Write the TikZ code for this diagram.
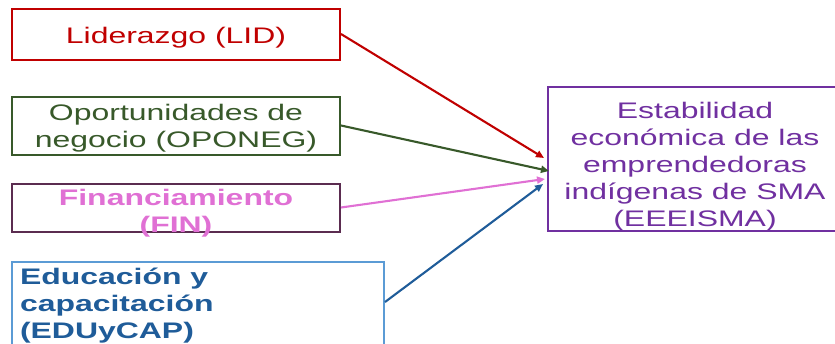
\documentclass[tikz,border=0pt]{standalone}
\usepackage{fontspec}
\setmainfont[FakeStretch=1.42]{Liberation Sans}
\usetikzlibrary{arrows.meta}
\definecolor{cLID}{HTML}{C00000}
\definecolor{cOPO}{HTML}{38592A}
\definecolor{cFINb}{HTML}{5B2C50}
\definecolor{cFIN}{HTML}{E070D4}
\definecolor{cEDUb}{HTML}{5B9BD5}
\definecolor{cEDU}{HTML}{1F5C99}
\definecolor{cEEE}{HTML}{7030A0}
\newcommand{\ctext}[3]{\raisebox{#1}[0pt][0pt]{\makebox[0pt]{\kern#2\makebox[0pt]{\begin{tabular}[b]{@{}c@{}}#3\end{tabular}}\kern-#2}}}
\newcommand{\ltext}[3]{\raisebox{#1}[0pt][0pt]{\makebox[0pt][l]{\kern#2\begin{tabular}[b]{@{}l@{}}#3\end{tabular}}}}
\begin{document}
\begin{tikzpicture}[x=1pt,y=-1pt,
  box/.style={draw, line width=2pt, inner sep=0pt, font=\fontsize{22.5}{27}\selectfont},
  link/.style={line width=2.1pt, -{Triangle[length=8pt,width=7pt]}}]
\useasboundingbox (0,0) rectangle (835,343);
\node[box, draw=cLID, text=cLID, minimum width=328pt, minimum height=51pt] (lid) at (176,34)
  {\ctext{-9pt}{0pt}{Liderazgo (LID)}};
\node[box, draw=cOPO, text=cOPO, minimum width=328pt, minimum height=58pt] (opo) at (176,125.5)
  {\ctext{-21.5pt}{0pt}{Oportunidades de\\negocio (OPONEG)}};
\node[box, draw=cFINb, text=cFIN, minimum width=328pt, minimum height=48pt] (fin) at (176,207.5)
  {\ctext{-24.5pt}{0pt}{\bfseries Financiamiento\\\bfseries (FIN)}};
\node[box, draw=cEDUb, text=cEDU, minimum width=372pt, minimum height=118pt] (edu) at (198,321)
  {\ltext{-17pt}{-178pt}{\bfseries Educación y\\\bfseries capacitación\\\bfseries (EDUyCAP)}};
\node[box, draw=cEEE, text=cEEE, minimum width=322pt, minimum height=144pt] (eee) at (709,159)
  {\ctext{-67pt}{-14pt}{Estabilidad\\económica de las\\emprendedoras\\indígenas de SMA\\(EEEISMA)}};
\draw[link, cLID] (lid.east) -- ([xshift=-3pt,yshift=1pt]eee.west);
\draw[link, cOPO] (opo.east) -- ([xshift=2pt,yshift=-12pt]eee.west);
\draw[link, cFIN] (fin.east) -- ([xshift=-2pt,yshift=-20pt]eee.west);
\draw[link, cEDU] ([yshift=19pt]edu.east) -- ([xshift=-4pt,yshift=-25pt]eee.west);
\end{tikzpicture}
\end{document}
